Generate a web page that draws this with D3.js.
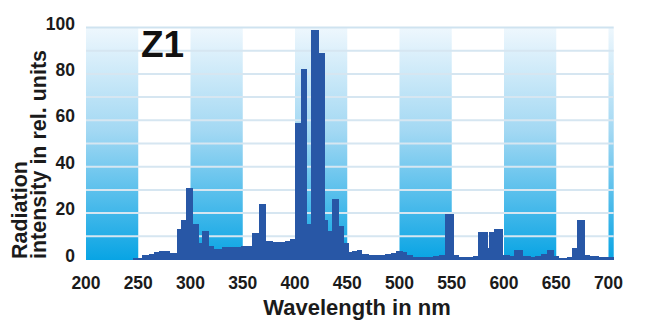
<!DOCTYPE html>
<html>
<head>
<meta charset="utf-8">
<script src="https://cdn.jsdelivr.net/npm/d3@7"></script>
<style>
  html, body { margin: 0; padding: 0; background: #fff; }
  svg { display: block; font-family: "Liberation Sans", Arial, sans-serif; }
</style>
</head>
<body>
<svg id="chart" width="656" height="336"></svg>
<script>
// Spectrum of lamp Z1: bin edges in nm and relative intensity per bin
const binEdges = [245, 254, 260, 265, 270, 276, 280, 287, 291, 296, 302, 308, 311, 317, 322,
  330, 337, 343, 348, 355, 359, 366, 372, 378, 385, 390, 395, 400, 406, 411, 415, 422, 428,
  431, 435, 442, 446, 451, 455, 459, 464, 470, 476, 482, 486, 492, 497, 503, 507, 512, 518,
  525, 532, 538, 544, 552, 556, 565, 570, 575, 584, 586, 590, 598, 605, 610, 618, 625, 630,
  635, 641, 647, 652, 660, 665, 670, 677, 682, 690, 698, 705];
const intensity = [0.6, 1.8, 2.2, 3.2, 3.8, 3.6, 3.0, 13, 17, 31, 15.5, 7, 12.5, 6, 4.7,
  5.5, 5.2, 5.5, 5.8, 6, 11.6, 24, 8, 7.4, 7.6, 8, 9, 59, 82, 15.5, 99, 89, 17,
  12.5, 26, 14.5, 7, 3.4, 3.5, 4, 2.5, 2, 1.8, 2, 2.5, 3, 3.5, 3.2, 1.8, 1.2, 1,
  1, 1.4, 1.8, 19.7, 2, 1, 1.2, 1.5, 11.7, 5, 12, 13, 1.8, 1.5, 4, 1.5, 1.2, 1.5,
  2.5, 4, 1.5, 0.8, 1, 5, 17, 2, 1.4, 1.2, 1.2];

const xTicks = [200, 250, 300, 350, 400, 450, 500, 550, 600, 650, 700];
const yTicks = [0, 20, 40, 60, 80, 100];
const gridValues = [10, 20, 30, 40, 50, 60, 70, 80, 90, 100];
const shadedBands = [[200, 250], [300, 350], [400, 450], [500, 550], [600, 650], [700, 705]];

const svg = d3.select("#chart");
const x = d3.scaleLinear().domain([200, 700]).range([86, 608.5]);
const y = d3.scaleLinear().domain([0, 100]).range([259.5, 27.5]);
const xEnd = 705;

const defs = svg.append("defs");
const grad = defs.append("linearGradient")
  .attr("id", "bandFill").attr("x1", 0).attr("y1", 0).attr("x2", 0).attr("y2", 1);
grad.append("stop").attr("offset", "0%").attr("stop-color", "#eef7fd");
grad.append("stop").attr("offset", "45%").attr("stop-color", "#a2d8f3");
grad.append("stop").attr("offset", "100%").attr("stop-color", "#08a4e4");

// shaded wavelength columns
svg.append("g").selectAll("rect").data(shadedBands).join("rect")
  .attr("x", d => x(d[0]))
  .attr("width", d => x(d[1]) - x(d[0]))
  .attr("y", y(100))
  .attr("height", y(0) - y(100) + 0.5)
  .attr("fill", "url(#bandFill)");

// horizontal grid
svg.append("g").selectAll("line").data(gridValues).join("line")
  .attr("x1", x(200)).attr("x2", x(xEnd))
  .attr("y1", d => y(d)).attr("y2", d => y(d))
  .attr("stroke", d => d === 100 ? "#cfe3f0" : "#d6e6f1")
  .attr("stroke-width", 2);

// spectrum bars
const bins = intensity.map((v, i) => ({ x0: binEdges[i], x1: binEdges[i + 1], v }));
svg.append("g").attr("shape-rendering", "crispEdges")
  .selectAll("rect").data(bins).join("rect")
  .attr("x", d => x(d.x0))
  .attr("width", d => x(d.x1) - x(d.x0) + 0.6)
  .attr("y", d => y(d.v))
  .attr("height", d => y(0) - y(d.v))
  .attr("fill", "#2857a6");

// axes labels
const txt = "#1b1b1b";
svg.append("g").selectAll("text").data(xTicks).join("text")
  .attr("x", d => x(d)).attr("y", 288.5)
  .attr("text-anchor", "middle")
  .attr("font-size", 17.5).attr("font-weight", "bold").attr("fill", txt)
  .text(d => d);

svg.append("g").selectAll("text").data(yTicks).join("text")
  .attr("x", 75).attr("y", d => y(d) + 2)
  .attr("text-anchor", "end")
  .attr("font-size", 17.5).attr("font-weight", "bold").attr("fill", txt)
  .text(d => d);

svg.append("text")
  .attr("x", 357).attr("y", 314.5)
  .attr("text-anchor", "middle")
  .attr("font-size", 22).attr("font-weight", "bold").attr("fill", txt)
  .text("Wavelength in nm");

const yTitle = svg.append("text")
  .attr("transform", "translate(0,259) rotate(-90)")
  .attr("font-size", 21.5).attr("font-weight", "bold").attr("fill", txt);
yTitle.append("tspan").attr("x", 0).attr("y", 27).text("Radiation");
yTitle.append("tspan").attr("x", 0).attr("y", 46).text("intensity in rel. units");

svg.append("text")
  .attr("x", 141).attr("y", 57)
  .attr("font-size", 37).attr("font-weight", "bold").attr("fill", "#111")
  .text("Z1");
</script>
</body>
</html>
